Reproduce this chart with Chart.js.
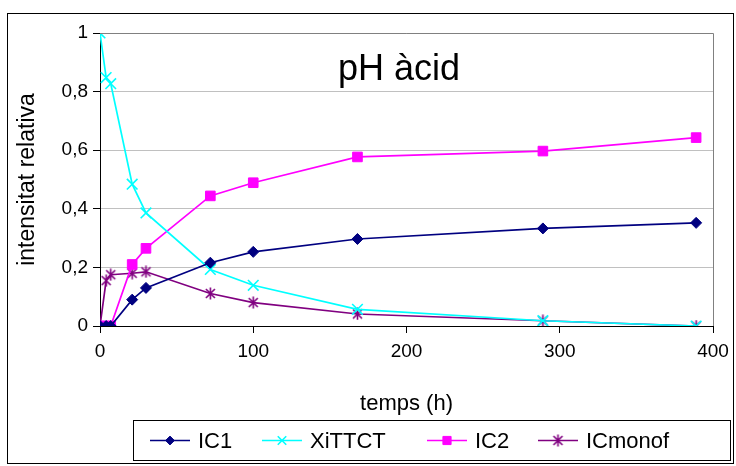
<!DOCTYPE html>
<html>
<head>
<meta charset="utf-8">
<script src="https://cdn.jsdelivr.net/npm/chart.js@4.4.0/dist/chart.umd.min.js"></script>
<style>
  html, body { margin: 0; padding: 0; background: #fff; }
  #wrap { width: 736px; height: 466px; position: relative; }
</style>
</head>
<body>
<div id="wrap"><canvas id="chart"></canvas></div>
<script>
// Sampling times (hours) and relative intensities of each species
const hours   = [0, 4, 7, 21, 30, 72, 100, 168, 289, 389];
const ic1     = [0, 0, 0, 0.09, 0.13, 0.216, 0.253, 0.297, 0.333, 0.352];
const xittct  = [1, 0.848, 0.827, 0.484, 0.386, 0.193, 0.139, 0.057, 0.018, 0];
const ic2     = [0, 0, 0, 0.21, 0.265, 0.444, 0.489, 0.577, 0.597, 0.643];
const icmonof = [0, 0.155, 0.175, 0.18, 0.185, 0.111, 0.08, 0.041, 0.018, 0];

const seriesNames = ['IC1', 'XiTTCT', 'IC2', 'ICmonof'];
const xTicks = [0, 100, 200, 300, 400];
const yTicks = [0, 0.2, 0.4, 0.6, 0.8, 1];

const FONT = "'Liberation Sans', Arial, sans-serif";

// Excel-style asterisk marker: an X with a vertical bar
function asteriskMarker(color) {
  const s = 13;
  const c = document.createElement('canvas');
  c.width = s; c.height = s;
  const g = c.getContext('2d');
  g.strokeStyle = color;
  g.lineWidth = 1.6;
  g.beginPath();
  g.moveTo(2, 2); g.lineTo(11, 11);
  g.moveTo(11, 2); g.lineTo(2, 11);
  g.moveTo(6.5, 0.5); g.lineTo(6.5, 12.5);
  g.stroke();
  return c;
}

function pairs(ys) { return hours.map((h, i) => ({ x: h, y: ys[i] })); }

const styles = [
  { color: '#000080', pointStyle: 'rectRot', radius: 5.5, borderWidth: 1 },
  { color: '#00FFFF', pointStyle: 'crossRot', radius: 7.5, borderWidth: 1.6 },
  { color: '#FF00FF', pointStyle: 'rect', radius: 6.8, borderWidth: 1 },
  { color: '#800080', pointStyle: asteriskMarker('#800080'), radius: 6.5, borderWidth: 1 }
];
const values = [ic1, xittct, ic2, icmonof];

const datasets = seriesNames.map((name, i) => ({
  label: name,
  data: pairs(values[i]),
  showLine: true,
  borderColor: styles[i].color,
  backgroundColor: styles[i].color,
  borderWidth: 1.7,
  pointStyle: styles[i].pointStyle,
  pointRadius: styles[i].radius,
  pointHoverRadius: styles[i].radius,
  pointBorderWidth: styles[i].borderWidth,
  pointBorderColor: styles[i].color,
  pointBackgroundColor: styles[i].color,
  tension: 0
}));

// Page frame, plot border, inner title and the boxed legend
const decorations = {
  id: 'decorations',
  beforeDraw(chart) {
    const ctx = chart.ctx;
    ctx.save();
    ctx.fillStyle = '#ffffff';
    ctx.fillRect(0, 0, chart.width, chart.height);
    ctx.restore();
  },
  afterDraw(chart) {
    const ctx = chart.ctx;
    const a = chart.chartArea;
    ctx.save();
    // plot area: grey top and right edges
    ctx.strokeStyle = '#808080';
    ctx.lineWidth = 1;
    ctx.beginPath();
    ctx.moveTo(a.left, Math.round(a.top) + 0.5);
    ctx.lineTo(Math.round(a.right) + 0.5, Math.round(a.top) + 0.5);
    ctx.lineTo(Math.round(a.right) + 0.5, Math.round(a.bottom));
    ctx.stroke();

    // outer frame
    ctx.strokeStyle = '#000000';
    ctx.lineWidth = 1;
    ctx.strokeRect(7.5, 13.5, 726, 450);

    // title inside the plot
    ctx.fillStyle = '#000000';
    ctx.font = '36px ' + FONT;
    ctx.textAlign = 'center';
    ctx.textBaseline = 'middle';
    ctx.fillText('pH àcid', 399, 70);

    // legend
    const box = { x: 133.5, y: 420.5, w: 597, h: 40 };
    ctx.strokeRect(box.x, box.y, box.w, box.h);
    const starts = [150, 262, 427, 538];
    const cy = box.y + box.h / 2;
    ctx.font = '22px ' + FONT;
    ctx.textAlign = 'left';
    chart.data.datasets.forEach((ds, i) => {
      const x0 = starts[i];
      ctx.strokeStyle = ds.borderColor;
      ctx.lineWidth = ds.borderWidth;
      ctx.beginPath();
      ctx.moveTo(x0, cy);
      ctx.lineTo(x0 + 40, cy);
      ctx.stroke();
      ctx.fillStyle = ds.pointBackgroundColor;
      ctx.strokeStyle = ds.pointBorderColor;
      ctx.lineWidth = ds.pointBorderWidth;
      const r = ds.pointStyle === 'rect' ? ds.pointRadius * 0.85 : ds.pointRadius * 0.8;
      Chart.helpers.drawPoint(ctx, { pointStyle: ds.pointStyle, radius: r, rotation: 0, borderWidth: ds.pointBorderWidth }, x0 + 20, cy);
      ctx.fillStyle = '#000000';
      ctx.fillText(ds.label, x0 + 48, cy + 1);
    });
    ctx.restore();
  }
};

new Chart(document.getElementById('chart'), {
  type: 'scatter',
  data: { datasets },
  options: {
    responsive: true,
    maintainAspectRatio: false,
    animation: false,
    devicePixelRatio: 1,
    layout: { padding: { top: 33, right: 23, bottom: 49.2, left: 0 } },
    plugins: {
      legend: { display: false },
      tooltip: { enabled: false },
      title: { display: false }
    },
    scales: {
      x: {
        type: 'linear',
        min: 0, max: 400,
        afterBuildTicks: s => { s.ticks = xTicks.map(v => ({ value: v })); },
        afterFit: s => { s.height = 90.8; },
        grid: { drawOnChartArea: false, drawTicks: true, tickLength: 7, tickColor: '#000000' },
        border: { color: '#000000', width: 1 },
        ticks: { color: '#000000', font: { family: FONT, size: 19 }, padding: 7, maxRotation: 0 },
        title: { display: true, text: 'temps (h)', color: '#000000', font: { family: FONT, size: 22 }, padding: 0 }
      },
      y: {
        type: 'linear',
        min: 0, max: 1,
        afterBuildTicks: s => { s.ticks = yTicks.map(v => ({ value: v })); },
        afterFit: s => { s.width = 100; },
        grid: { color: '#c0c0c0', lineWidth: 1, drawTicks: true, tickLength: 7, tickColor: '#000000' },
        border: { color: '#000000', width: 1 },
        ticks: {
          color: '#000000', font: { family: FONT, size: 19 }, padding: 5,
          callback: v => String(Math.round(v * 10) / 10).replace('.', ',')
        },
        title: { display: true, text: 'intensitat relativa', color: '#000000', font: { family: FONT, size: 23 }, padding: { top: 14.2, bottom: 0 } }
      }
    }
  },
  plugins: [decorations]
});
</script>
</body>
</html>
